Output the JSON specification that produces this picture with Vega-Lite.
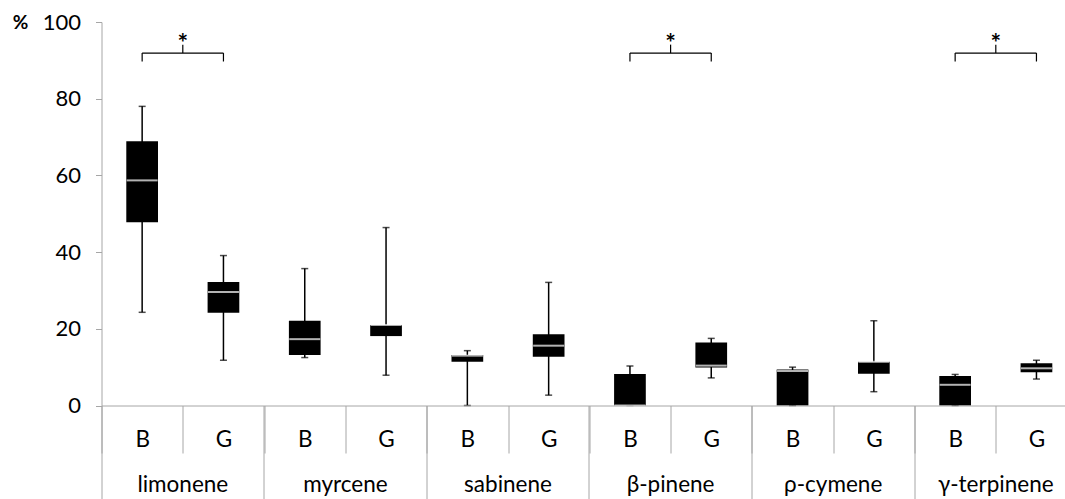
{
  "$schema": "https://vega.github.io/schema/vega-lite/v6.json",
  "width": 963.5,
  "height": 383.5,
  "autosize": {"type": "none"},
  "padding": {"left": 101.5, "top": 22, "right": 0, "bottom": 93.5},
  "config": {
    "font": "Lato",
    "view": {"stroke": null},
    "axis": {"grid": false, "domainColor": "#a6a6a6", "tickColor": "#a6a6a6", "labelColor": "#000000", "labelFont": "Lato", "labelFontSize": 22.5}
  },
  "datasets": {
    "boxes": [
      {"slot": "limonene|B", "min": 24.3, "q1": 47.8, "median": 58.7, "q3": 68.9, "max": 78.0},
      {"slot": "limonene|G", "min": 11.8, "q1": 24.2, "median": 29.6, "q3": 32.2, "max": 39.1},
      {"slot": "myrcene|B", "min": 12.5, "q1": 13.2, "median": 17.3, "q3": 22.1, "max": 35.7},
      {"slot": "myrcene|G", "min": 7.9, "q1": 18.1, "median": 21.0, "q3": 21.0, "max": 46.4},
      {"slot": "sabinene|B", "min": 0, "q1": 11.4, "median": 13.0, "q3": 13.2, "max": 14.3},
      {"slot": "sabinene|G", "min": 2.7, "q1": 12.7, "median": 15.6, "q3": 18.6, "max": 32.1},
      {"slot": "β-pinene|B", "min": 0, "q1": 0, "median": 0, "q3": 8.2, "max": 10.3},
      {"slot": "β-pinene|G", "min": 7.2, "q1": 9.9, "median": 10.4, "q3": 16.4, "max": 17.5},
      {"slot": "ρ-cymene|B", "min": 0, "q1": 0, "median": 9.0, "q3": 9.4, "max": 10.0},
      {"slot": "ρ-cymene|G", "min": 3.6, "q1": 8.3, "median": 11.4, "q3": 11.4, "max": 22.1},
      {"slot": "γ-terpinene|B", "min": 0, "q1": 0, "median": 5.4, "q3": 7.7, "max": 8.1},
      {"slot": "γ-terpinene|G", "min": 6.9, "q1": 8.7, "median": 9.7, "q3": 11.0, "max": 11.8}
    ],
    "sig": [
      {"b": "limonene|B", "g": "limonene|G", "mark": "*"},
      {"b": "β-pinene|B", "g": "β-pinene|G", "mark": "*"},
      {"b": "γ-terpinene|B", "g": "γ-terpinene|G", "mark": "*"}
    ]
  },
  "layer": [
    {
      "data": {"name": "boxes"},
      "encoding": {
        "x": {
          "field": "slot", "type": "nominal", "title": null,
          "scale": {"domain": ["limonene|B","limonene|G","myrcene|B","myrcene|G","sabinene|B","sabinene|G","β-pinene|B","β-pinene|G","ρ-cymene|B","ρ-cymene|G","γ-terpinene|B","γ-terpinene|G"], "range": [0, 975.6], "paddingInner": 0, "paddingOuter": 0},
          "axis": {"orient": "bottom", "tickBand": "extent", "tickSize": 47.5, "labelExpr": "split(datum.value,'|')[1]", "labelPadding": -6.8, "labelBaseline": "alphabetic", "labelAngle": 0, "zindex": 1, "labelOverlap": false}
        }
      },
      "layer": [
        {
          "mark": {"type": "rule", "color": "#000000", "strokeWidth": 1.5},
          "encoding": {
            "y": {"field": "min", "type": "quantitative", "scale": {"domain": [0, 100], "nice": false}, "title": "%",
              "axis": {"values": [0, 20, 40, 60, 80, 100], "tickSize": 6, "labelPadding": 15, "labelFontSize": 22, "titleAngle": 0, "titleX": -81.5, "titleY": 0.5, "titleAlign": "center", "titleBaseline": "middle", "titleFontSize": 19, "titleFontWeight": "bold", "titleColor": "#000000", "titleFont": "Lato"}},
            "y2": {"field": "max"}
          }
        },
        {
          "mark": {"type": "tick", "color": "#000000", "size": 7, "thickness": 1.5, "orient": "horizontal"},
          "encoding": {"y": {"field": "max", "type": "quantitative"}}
        },
        {
          "mark": {"type": "tick", "color": "#000000", "size": 7, "thickness": 1.5, "orient": "horizontal"},
          "encoding": {"y": {"field": "min", "type": "quantitative"}}
        },
        {
          "mark": {"type": "bar", "color": "#000000", "width": {"band": 0.39}},
          "encoding": {"y": {"field": "q1", "type": "quantitative"}, "y2": {"field": "q3"}}
        },
        {
          "mark": {"type": "tick", "color": "#ffffff", "size": 31, "thickness": 2, "orient": "horizontal"},
          "encoding": {"y": {"field": "median", "type": "quantitative"}}
        }
      ]
    },
    {
      "data": {"name": "sig"},
      "layer": [
        {
          "mark": {"type": "rule", "color": "#000000", "strokeWidth": 1.2},
          "encoding": {
            "x": {"field": "b", "type": "nominal", "title": null,
              "scale": {"domain": ["limonene|B","limonene|G","myrcene|B","myrcene|G","sabinene|B","sabinene|G","β-pinene|B","β-pinene|G","ρ-cymene|B","ρ-cymene|G","γ-terpinene|B","γ-terpinene|G"]},
              "axis": {"orient": "bottom", "values": ["limonene|B","myrcene|B","sabinene|B","β-pinene|B","ρ-cymene|B","γ-terpinene|B"], "bandPosition": 0, "tickSize": 94, "domain": false, "labelExpr": "split(datum.value,'|')[0]", "labelOffset": 40.65, "labelPadding": -8.5, "labelBaseline": "alphabetic", "labelAngle": 0, "labelOverlap": false}},
            "x2": {"field": "g"},
            "y": {"datum": 91.9, "type": "quantitative"}
          }
        },
        {
          "mark": {"type": "rule", "color": "#000000", "strokeWidth": 1.2},
          "encoding": {
            "x": {"field": "b", "type": "nominal", "title": null},
            "y": {"datum": 89.7, "type": "quantitative"},
            "y2": {"datum": 91.9}
          }
        },
        {
          "mark": {"type": "rule", "color": "#000000", "strokeWidth": 1.2},
          "encoding": {
            "x": {"field": "g", "type": "nominal", "title": null},
            "y": {"datum": 89.7, "type": "quantitative"},
            "y2": {"datum": 91.9}
          }
        },
        {
          "mark": {"type": "rule", "color": "#000000", "strokeWidth": 1.2},
          "encoding": {
            "x": {"field": "g", "type": "nominal", "title": null, "bandPosition": 0},
            "y": {"datum": 91.9, "type": "quantitative"},
            "y2": {"datum": 94.1}
          }
        },
        {
          "mark": {"type": "text", "color": "#000000", "fontSize": 25, "fontWeight": "bold", "baseline": "middle", "align": "center"},
          "encoding": {
            "x": {"field": "g", "type": "nominal", "title": null, "bandPosition": 0},
            "y": {"datum": 94.3, "type": "quantitative"},
            "text": {"field": "mark"}
          }
        }
      ]
    }
  ],
  "resolve": {"axis": {"x": "independent"}}
}
